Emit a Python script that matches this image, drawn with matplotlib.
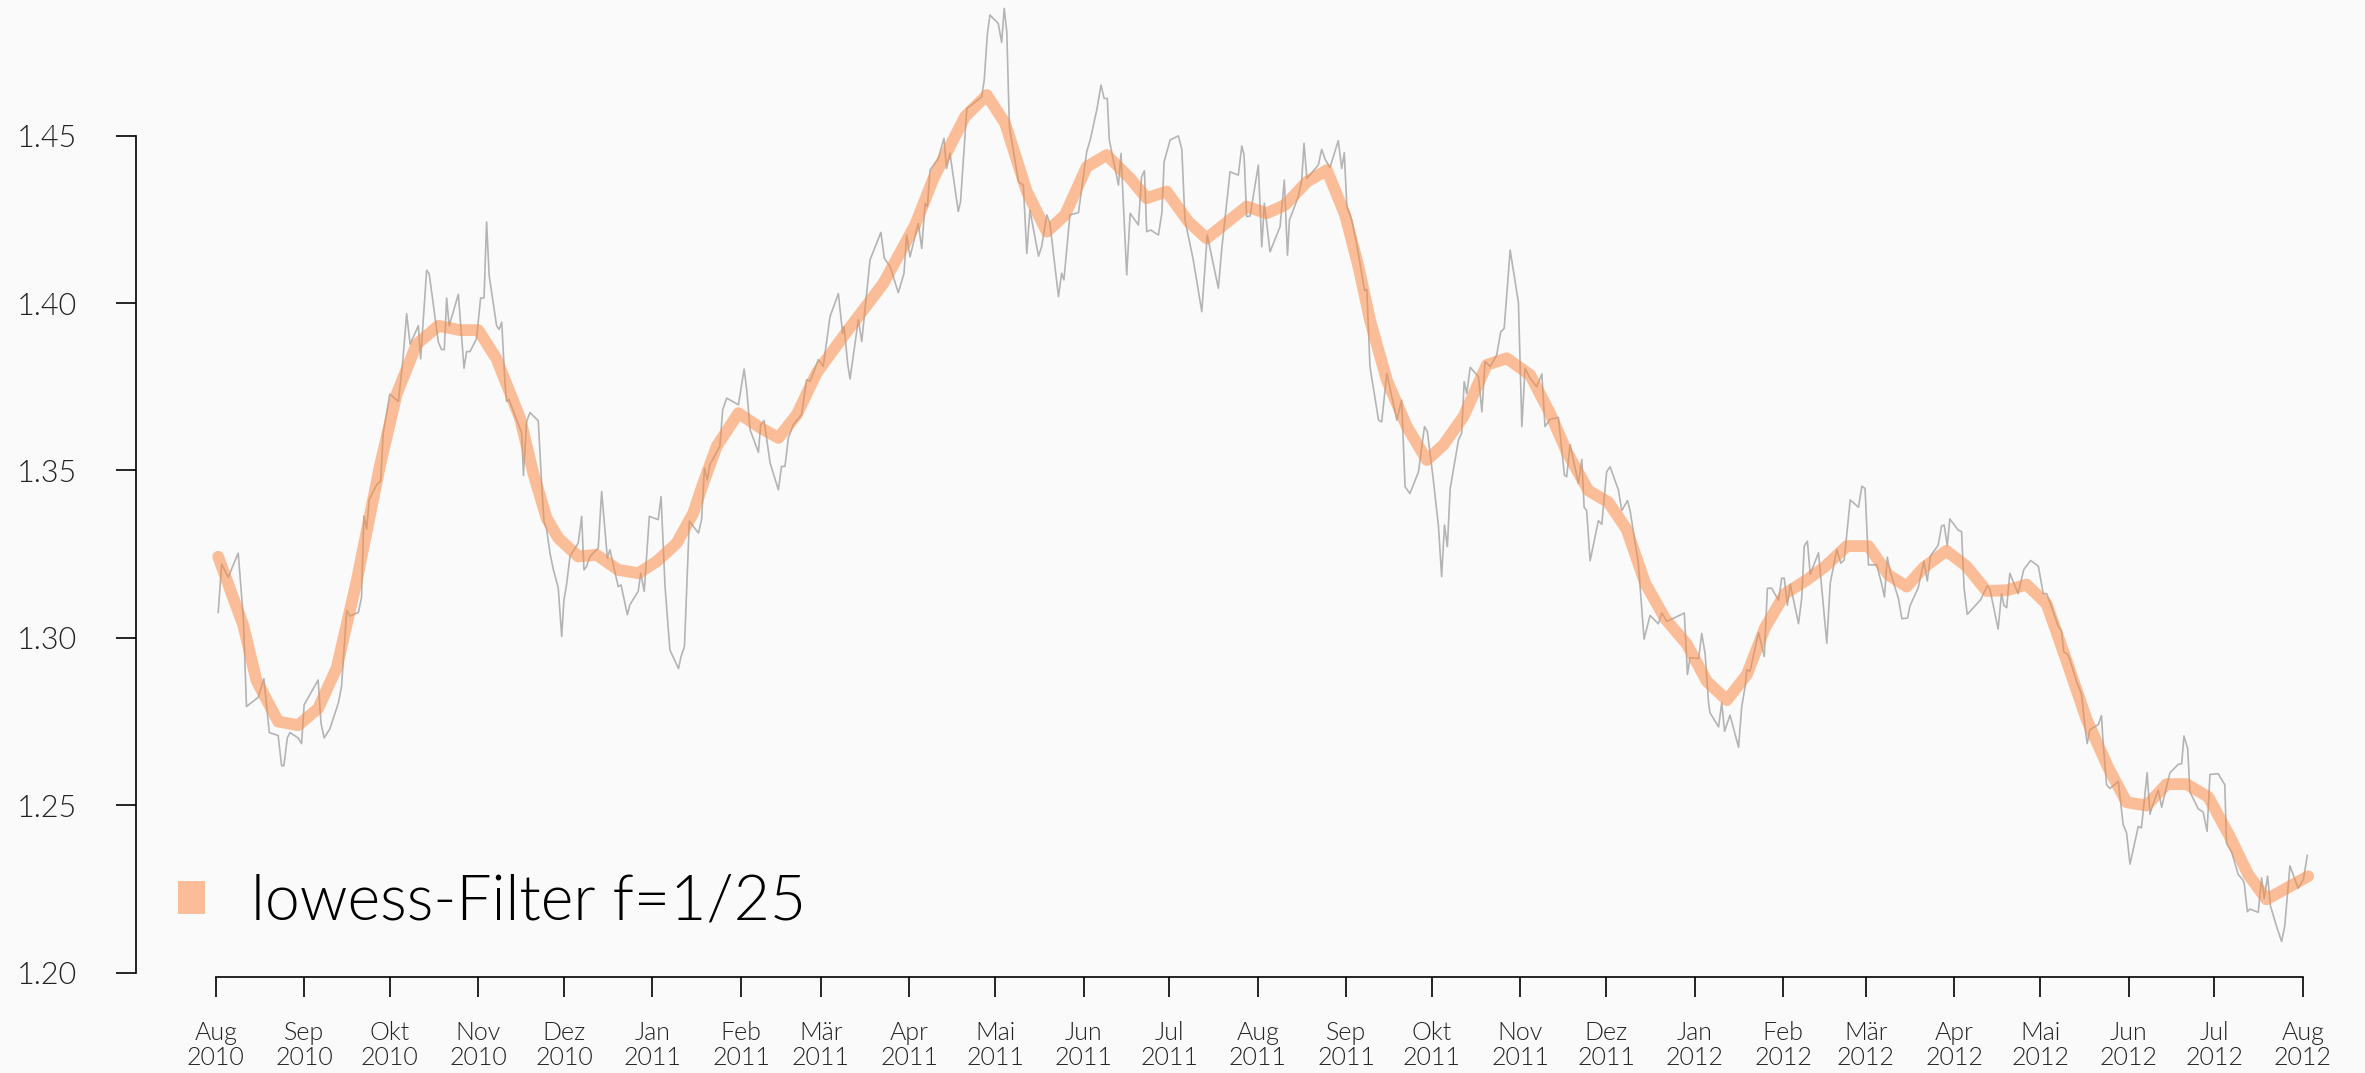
import numpy as np
import matplotlib
matplotlib.use("Agg")
import matplotlib.pyplot as plt
import matplotlib.dates as mdates
from matplotlib.patches import Patch

plt.rcParams["font.family"] = ["Lato", "DejaVu Sans"]
plt.rcParams["font.weight"] = 300

# daily EUR/USD rate, days counted from 2010-08-01
grey_days = [
    0.9, 2.1, 4.4, 7.9, 9.7, 10.8, 14.9, 16.9, 18.8, 21.9, 23.1, 23.9, 25.1, 26.0,
    28.9, 30.1, 31.0, 35.9, 36.9, 38.0, 40.0, 43.0, 44.1, 45.9, 47.0, 50.0, 51.1,
    51.9, 52.9, 53.8, 56.4, 57.8, 58.7, 61.0, 64.0, 65.5, 66.9, 68.1, 71.0, 71.8,
    73.9, 74.8, 78.0, 79.1, 80.1, 80.9, 81.8, 85.0, 87.0, 87.9, 89.1, 91.4, 92.8,
    94.0, 94.9, 95.8, 98.4, 99.3, 100.2, 101.3, 101.9, 102.7, 107.2, 107.8, 108.9,
    110.1, 113.0, 114.2, 115.0, 115.9,
    117.1, 118.3, 120.0, 121.2, 122.0, 122.9, 124.1, 127.0, 128.2, 129.0, 129.9,
    131.1, 134.0, 135.2, 137.2, 138.1, 141.0, 142.0, 144.2, 145.1, 148.0, 148.9,
    150.1, 151.9, 155.0, 156.0, 157.4, 159.1, 162.1, 163.0, 164.2, 165.9, 169.1,
    170.2, 171.2, 172.2, 173.1, 176.6, 177.6, 179.0, 183.1, 185.1, 186.0, 187.2,
    190.1, 190.9, 192.1, 194.2, 197.1, 198.2, 199.4, 200.6, 202.3, 203.5, 205.2,
    207.0, 208.2, 211.1, 212.8, 215.2, 218.1, 219.6, 220.1, 221.4, 222.2, 225.1,
    226.3, 229.2, 233.0, 234.2,
    236.2, 239.1, 241.1, 242.0, 243.2, 246.1, 247.3, 248.5, 249.3, 250.2, 253.1,
    255.1, 256.0, 257.2, 260.1, 260.9, 263.1, 265.4, 268.3, 269.2, 270.3, 271.2,
    274.1, 275.3, 276.2, 277.1, 278.0, 281.2, 282.9, 284.1, 285.2, 288.2, 289.3,
    291.1, 292.2, 295.2, 296.3, 297.1, 299.2, 302.2, 305.1, 306.3, 308.6, 310.1,
    311.2, 312.3, 313.0, 316.2, 317.1, 319.1, 320.3, 323.2, 324.3, 325.3, 326.1,
    327.5, 330.2, 331.4, 332.2, 334.3, 337.2, 338.4, 339.5, 342.4, 345.4, 347.3,
    351.2, 352.4,
    355.3, 358.2, 359.4, 360.2, 361.1, 362.3, 365.2, 366.4, 367.3, 369.3, 372.8,
    374.3, 375.4, 376.1, 379.2, 380.4, 381.2, 382.2, 386.2, 387.4, 388.6, 390.3,
    393.2, 394.4, 395.3, 396.2, 397.9, 399.7, 401.4, 402.4, 403.2, 404.3, 407.3,
    408.4, 410.2, 413.7, 415.4, 416.6, 418.3, 421.3, 423.4, 424.4, 426.5, 428.3,
    429.4, 430.4, 431.4, 432.4, 435.3, 436.4, 437.3, 438.2, 439.4, 442.3, 443.5,
    444.6, 446.4, 448.7, 450.1, 451.3, 453.4, 456.3, 457.5, 458.6, 460.4, 462.7,
    464.5, 465.6, 467.4, 470.3, 472.4, 473.2,
    474.4, 477.3, 478.5, 479.3, 480.2, 481.4, 484.3, 485.5, 487.2, 488.4, 491.3,
    492.5, 494.5, 495.4, 498.3, 500.3, 502.4, 505.3, 506.5, 508.3, 514.4, 515.5,
    516.4, 519.4, 520.5, 521.7, 522.9, 523.4, 526.4, 527.5, 528.5, 530.4, 533.4,
    534.5, 535.7, 536.3, 537.4, 540.4, 542.4, 543.5, 545.0, 547.4, 548.5, 549.4,
    550.5, 551.5, 554.4, 555.5, 556.4, 557.5, 558.5, 561.4, 564.3, 565.5, 567.8,
    569.2, 570.4, 572.5, 575.4, 576.6, 577.7, 578.9, 581.8, 583.6, 584.5, 585.5,
    586.5, 589.4, 590.6, 592.6,
    593.4, 596.3, 598.3, 599.5, 600.6, 603.3, 604.5, 605.4, 606.5, 607.4, 610.3,
    611.5, 612.4, 613.5, 618.2, 620.5, 621.4, 624.3, 625.5, 626.4, 627.3, 628.4,
    631.3, 633.3, 635.7, 638.4, 640.1, 641.3, 642.4, 645.4, 646.5, 647.3, 648.5,
    649.4, 651.8, 653.5, 654.7, 655.5, 656.4, 659.4, 660.5, 661.1, 662.3, 663.5,
    666.4, 668.1, 669.3, 670.5, 673.4, 674.5, 676.5, 677.5, 678.4, 680.4, 681.6,
    683.3, 684.5, 687.4, 688.6, 689.4, 690.7, 691.5, 694.4, 696.1, 697.5, 698.5,
    701.4, 703.7, 704.3, 706.1, 708.4, 709.9, 710.5, 711.6, 712.5, 715.4, 716.6,
    717.5, 718.7, 719.7, 721.8, 723.6, 724.7, 726.5, 729.4, 731.2, 732.6,
]
grey_rate = [
    1.3076, 1.3220, 1.3181, 1.3253, 1.3060, 1.2795, 1.2822, 1.2878, 1.2717, 1.2708,
    1.2618, 1.2618, 1.2701, 1.2717, 1.2701, 1.2684, 1.2800, 1.2874, 1.2745, 1.2701,
    1.2728, 1.2806, 1.2855, 1.3082, 1.3065, 1.3076, 1.3121, 1.3364, 1.3325, 1.3413,
    1.3457, 1.3468, 1.3612, 1.3728, 1.3706, 1.3822, 1.3968, 1.3877, 1.3932, 1.3833,
    1.4098, 1.4087, 1.3883, 1.3861, 1.3861, 1.4015, 1.3932, 1.4026, 1.3805, 1.3855,
    1.3855, 1.3894, 1.4015, 1.4015, 1.4242, 1.4082, 1.3932, 1.3921, 1.3943, 1.3767,
    1.3706, 1.3712, 1.3612, 1.3485, 1.3645, 1.3673, 1.3648, 1.3457, 1.3347, 1.3325,
    1.3253, 1.3203, 1.3149, 1.3004, 1.3114, 1.3158, 1.3243, 1.3283, 1.3363, 1.3203,
    1.3213, 1.3243, 1.3268, 1.3437, 1.3238, 1.3263, 1.3153, 1.3158, 1.3069, 1.3099,
    1.3139, 1.3193, 1.3139, 1.3363, 1.3353, 1.3422, 1.3153, 1.2964, 1.2908, 1.2944,
    1.2974, 1.3348, 1.3313, 1.3353, 1.3507, 1.3472, 1.3517, 1.3572, 1.3681, 1.3716,
    1.3696, 1.3803, 1.3741, 1.3621, 1.3554, 1.3636, 1.3649, 1.3522, 1.3442, 1.3512,
    1.3512, 1.3597, 1.3636, 1.3649, 1.3666, 1.3771, 1.3766, 1.3831, 1.3811, 1.3960,
    1.4028, 1.3910, 1.3930, 1.3816, 1.3773, 1.3950, 1.3885, 1.4129, 1.4211, 1.4134,
    1.4109, 1.4031, 1.4089, 1.4203, 1.4138, 1.4238, 1.4163, 1.4298, 1.4288, 1.4397,
    1.4432, 1.4492, 1.4402, 1.4447, 1.4273, 1.4303, 1.4581, 1.4596, 1.4616, 1.4666,
    1.4805, 1.4860, 1.4835, 1.4778, 1.4880, 1.4810, 1.4527, 1.4362, 1.4352, 1.4148,
    1.4278, 1.4140, 1.4168, 1.4263, 1.4238, 1.4019, 1.4089, 1.4069, 1.4263, 1.4270,
    1.4452, 1.4487, 1.4576, 1.4651, 1.4611, 1.4611, 1.4487, 1.4352, 1.4447, 1.4084,
    1.4268, 1.4233, 1.4377, 1.4395, 1.4213, 1.4218, 1.4203, 1.4268, 1.4422, 1.4487,
    1.4499, 1.4459, 1.4248, 1.4129, 1.3974, 1.4203, 1.4044, 1.4163,
    1.4392, 1.4382, 1.4469, 1.4442, 1.4258, 1.4260, 1.4412, 1.4168, 1.4298, 1.4153,
    1.4228, 1.4367, 1.4143, 1.4248, 1.4318, 1.4367, 1.4477, 1.4372, 1.4412, 1.4459,
    1.4429, 1.4405, 1.4485, 1.4402, 1.4449, 1.4288, 1.4248, 1.4173, 1.4089, 1.4037,
    1.4041, 1.3810, 1.3650, 1.3645, 1.3790, 1.3650, 1.3710, 1.3451, 1.3431, 1.3496,
    1.3631, 1.3616, 1.3471, 1.3332, 1.3183, 1.3337, 1.3272, 1.3446, 1.3591, 1.3611,
    1.3765, 1.3730, 1.3808, 1.3780, 1.3675, 1.3825, 1.3810, 1.3845, 1.3914, 1.3924,
    1.4158, 1.4001, 1.3631, 1.3805, 1.3775, 1.3750, 1.3788, 1.3631, 1.3653, 1.3658,
    1.3486, 1.3481,
    1.3577, 1.3461, 1.3533, 1.3390, 1.3380, 1.3230, 1.3350, 1.3339, 1.3496, 1.3511,
    1.3442, 1.3380, 1.3410, 1.3380, 1.3223, 1.2996, 1.3067, 1.3042, 1.3074, 1.3049,
    1.3074, 1.2890, 1.2941, 1.2938, 1.3013, 1.2951, 1.2804, 1.2776, 1.2734, 1.2806,
    1.2721, 1.2769, 1.2673, 1.2794, 1.2855, 1.2905, 1.2900, 1.3016, 1.2944, 1.3148,
    1.3148, 1.3112, 1.3178, 1.3178, 1.3097, 1.3160, 1.3042, 1.3117, 1.3274, 1.3289,
    1.3190, 1.3254, 1.2984, 1.3163, 1.3264, 1.3223, 1.3233, 1.3412, 1.3390, 1.3453,
    1.3446, 1.3218, 1.3218, 1.3158, 1.3122, 1.3241, 1.3198, 1.3117, 1.3057, 1.3059,
    1.3095, 1.3149, 1.3229, 1.3170, 1.3245, 1.3276, 1.3334, 1.3337, 1.3276, 1.3355,
    1.3322, 1.3317, 1.3147, 1.3070, 1.3114, 1.3155, 1.3147, 1.3026, 1.3132, 1.3096,
    1.3090, 1.3193, 1.3132, 1.3204, 1.3231, 1.3214, 1.3132, 1.3132, 1.3108, 1.3034,
    1.3021, 1.2957, 1.2952, 1.2936, 1.2869, 1.2833, 1.2736, 1.2684, 1.2725, 1.2741,
    1.2768, 1.2684, 1.2561, 1.2550, 1.2571, 1.2442, 1.2417, 1.2324, 1.2437, 1.2432,
    1.2597, 1.2473, 1.2499, 1.2545, 1.2494, 1.2556, 1.2597, 1.2622, 1.2624, 1.2707,
    1.2669, 1.2540, 1.2489, 1.2480, 1.2422, 1.2592, 1.2594, 1.2561, 1.2386, 1.2360,
    1.2293, 1.2278, 1.2268, 1.2182, 1.2190, 1.2180, 1.2283, 1.2221, 1.2288, 1.2199,
    1.2139, 1.2093, 1.2139, 1.2319, 1.2252, 1.2278, 1.2350,
]

# lowess curve (f = 1/25), weekly points
smooth_days = [
    0.9, 9.7, 14.3, 21.9, 28.9, 35.9, 42.4, 49.4, 57.5, 63.4, 70.4, 78.0, 85.6,
    92.0, 98.4, 106.6, 111.3, 115.9, 120.0, 127.0, 133.4, 141.0, 148.0, 154.5,
    161.5, 167.3, 170.8, 175.5, 183.1, 190.1, 197.1, 203.5, 210.5, 219.8, 226.9,
    233.9, 245.0, 251.4, 262.5, 270.1, 276.5, 284.1, 291.1, 297.5, 305.1, 312.1,
    320.3, 326.1, 333.1, 340.7, 347.1, 353.0, 361.1, 368.1, 374.6, 382.2, 389.2,
    395.6, 400.3, 404.3, 410.2, 417.2, 424.2, 430.0, 437.0, 445.2, 452.2, 460.4,
    467.4, 473.2, 480.8, 487.8, 494.2, 500.7, 507.7, 515.3, 522.3, 529.3, 536.3,
    542.7, 549.7, 557.3, 563.7, 571.3, 578.9, 585.9, 592.3, 598.1, 606.2, 613.2,
    620.3, 627.3, 634.3, 641.3, 648.3, 655.3, 662.9, 669.3, 676.3, 683.3, 690.3,
    697.9, 705.5, 711.9, 718.3, 725.3, 732.9,
]
smooth_rate = [
    1.3242, 1.3037, 1.2872, 1.2750, 1.2739, 1.2789, 1.2910, 1.3170, 1.3512, 1.3728,
    1.3877, 1.3932, 1.3919, 1.3919, 1.3833, 1.3656, 1.3490, 1.3358, 1.3298, 1.3243,
    1.3248, 1.3203, 1.3193, 1.3228, 1.3283, 1.3373, 1.3462, 1.3572, 1.3671, 1.3631,
    1.3597, 1.3666, 1.3791, 1.3900, 1.3980, 1.4059, 1.4233, 1.4372, 1.4557, 1.4621,
    1.4537, 1.4333, 1.4213, 1.4263, 1.4407, 1.4442, 1.4372, 1.4313, 1.4333, 1.4243,
    1.4193, 1.4233, 1.4288, 1.4268, 1.4293, 1.4362, 1.4397, 1.4263, 1.4108, 1.3949,
    1.3770, 1.3631, 1.3531, 1.3576, 1.3660, 1.3815, 1.3835, 1.3785, 1.3670, 1.3556,
    1.3440, 1.3405, 1.3324, 1.3163, 1.3057, 1.2981, 1.2870, 1.2814, 1.2890, 1.3031,
    1.3132, 1.3173, 1.3213, 1.3274, 1.3274, 1.3188, 1.3153, 1.3209, 1.3260, 1.3214,
    1.3140, 1.3142, 1.3159, 1.3101, 1.2931, 1.2756, 1.2612, 1.2509, 1.2499, 1.2563,
    1.2563, 1.2525, 1.2406, 1.2293, 1.2219, 1.2252, 1.2288,
]

month_names = ["Jan", "Feb", "Mär", "Apr", "Mai", "Jun", "Jul", "Aug", "Sep", "Okt", "Nov", "Dez"]
y_ticks = [1.20, 1.25, 1.30, 1.35, 1.40, 1.45]
legend_label = "lowess-Filter f=1/25"

bg = "#fafafa"
orange = "#fa8c46"

t0 = mdates.date2num(np.datetime64("2010-08-01"))
gx = t0 + np.array(grey_days)
sx = t0 + np.array(smooth_days)

months = np.arange("2010-08", "2012-09", dtype="datetime64[M]")
tick_x = mdates.date2num(months.astype("datetime64[D]"))
tick_labels = ["%s\n%d" % (month_names[m.astype(int) % 12], 1970 + m.astype(int) // 12) for m in months]

fig = plt.figure(figsize=(23.65, 10.73), dpi=100, facecolor=bg)
ax = fig.add_axes([135.7 / 2365, 96 / 1073, (2345 - 135.7) / 2365, 977 / 1073])
ax.set_facecolor(bg)

ax.plot(gx, grey_rate, color="black", alpha=0.28, lw=1.2)
ax.plot(sx, smooth_rate, color=orange, alpha=0.55, lw=8.5, solid_capstyle="round")

ax.set_xlim(t0 - 28.0, t0 + 745.8)
ax.set_ylim(1.1987, 1.4905)

for s in ["top", "right"]:
    ax.spines[s].set_visible(False)
ax.spines["left"].set_bounds(1.20, 1.45)
ax.spines["bottom"].set_bounds(tick_x[0], tick_x[-1])
ax.spines["left"].set_linewidth(1.2)
ax.spines["bottom"].set_linewidth(1.2)

ax.set_yticks(y_ticks)
ax.set_yticklabels(["%.2f" % v for v in y_ticks])
ax.set_xticks(tick_x)
ax.set_xticklabels(tick_labels, linespacing=1.08)
ax.tick_params(axis="both", length=14.4, width=1.2, color="black")
ax.tick_params(axis="y", labelsize=22, pad=28, labelcolor="#222222")
ax.tick_params(axis="x", labelsize=18, pad=17, labelcolor="#222222")

handle = Patch(facecolor=orange, alpha=0.55, edgecolor="none")
fig.legend([handle], [legend_label], loc="center left",
           bbox_to_anchor=(178 / 2365, 1 - 902 / 1073), frameon=False,
           fontsize=45, handlelength=0.43, handleheight=0.43, handletextpad=0.74,
           borderpad=0, borderaxespad=0)

fig.savefig("out.png", dpi=100, facecolor=bg)
